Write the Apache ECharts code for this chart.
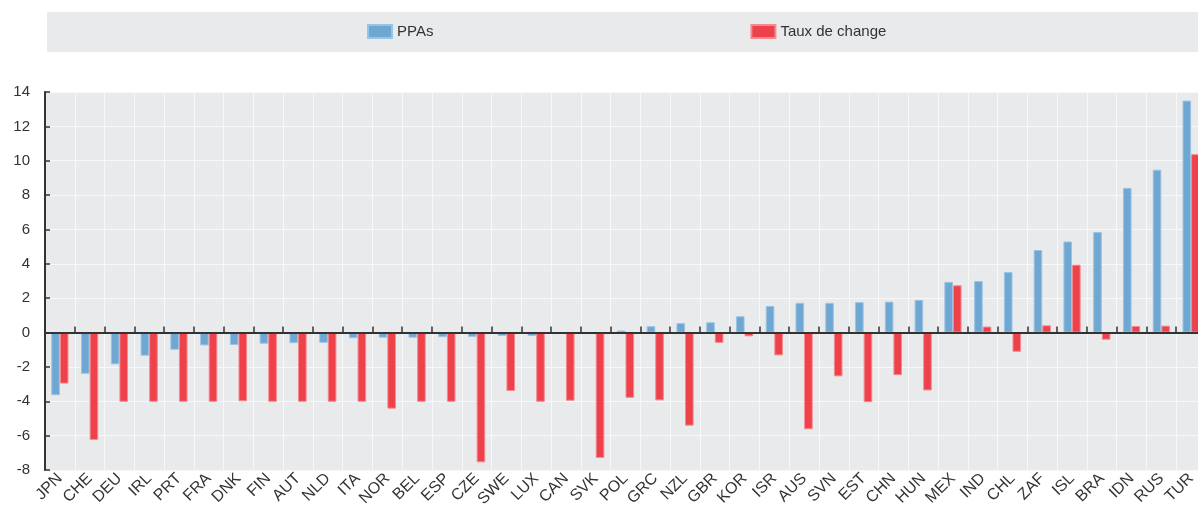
<!DOCTYPE html>
<html>
<head>
<meta charset="utf-8">
<script src="https://cdn.jsdelivr.net/npm/echarts@6/dist/echarts.min.js"></script>
<style>
html,body{margin:0;padding:0;background:#fff;}
#c{width:1198px;height:507px;}
</style>
</head>
<body>
<div id="c"></div>
<script>
const categories = ['JPN','CHE','DEU','IRL','PRT','FRA','DNK','FIN','AUT','NLD','ITA','NOR','BEL','ESP','CZE','SWE','LUX','CAN','SVK','POL','GRC','NZL','GBR','KOR','ISR','AUS','SVN','EST','CHN','HUN','MEX','IND','CHL','ZAF','ISL','BRA','IDN','RUS','TUR'];
const ppas = [-3.65,-2.4,-1.85,-1.35,-1.0,-0.75,-0.72,-0.65,-0.62,-0.6,-0.33,-0.3,-0.3,-0.27,-0.25,-0.2,-0.2,0,0,0.12,0.37,0.55,0.6,0.95,1.55,1.73,1.73,1.77,1.8,1.9,2.95,3.0,3.52,4.8,5.3,5.85,8.42,9.48,13.5];
const tauxDeChange = [-2.97,-6.25,-4.03,-4.03,-4.03,-4.03,-4.0,-4.03,-4.03,-4.03,-4.03,-4.43,-4.03,-4.03,-7.55,-3.4,-4.03,-3.97,-7.3,-3.8,-3.95,-5.42,-0.6,-0.22,-1.33,-5.63,-2.55,-4.05,-2.48,-3.37,2.75,0.35,-1.12,0.42,3.95,-0.42,0.38,0.4,10.38];
const seriesNames = ['PPAs','Taux de change'];
const yTicks = {min:-8, max:14, interval:2};

const chart = echarts.init(document.getElementById('c'), null, {renderer:'canvas'});
const font = "'Liberation Sans', Arial, sans-serif";
chart.setOption({
  animation:false,
  backgroundColor:'#ffffff',
  graphic:[{type:'rect', left:47, top:12, shape:{width:1151, height:40}, style:{fill:'#E9EAEC'}, z:-1}],
  legend:{
    left:362, top:19, itemWidth:24, itemHeight:13, itemGap:317,
    icon:'rect',
    textStyle:{fontFamily:font, fontSize:15, color:'#333333'},
    data:seriesNames
  },
  grid:{left:45, width:1161, top:92, height:378, outerBoundsMode:'none', containLabel:false, show:true, backgroundColor:'#E9EAEC', borderWidth:0},
  xAxis:[{
    type:'category', data:categories, position:'bottom',
    axisLine:{show:false, onZero:false},
    axisTick:{show:false},
    axisLabel:{rotate:45, margin:6, fontFamily:font, fontSize:16, color:'#333333', interval:0},
    splitLine:{show:true, interval:0, lineStyle:{color:'#F8F8F8', width:1}}
  },{
    type:'category', data:categories, position:'bottom', z:10,
    axisLine:{show:true, onZero:true, lineStyle:{color:'#333333', width:2}},
    axisTick:{show:true, inside:true, length:6, interval:0, lineStyle:{color:'#333333', width:1.5}},
    axisLabel:{show:false},
    splitLine:{show:false}
  }],
  yAxis:{
    type:'value', min:yTicks.min, max:yTicks.max, interval:yTicks.interval,
    axisLine:{show:true, lineStyle:{color:'#333333', width:2}},
    axisTick:{show:true, inside:true, length:5, lineStyle:{color:'#333333', width:1.5}},
    axisLabel:{margin:15, fontFamily:font, fontSize:15, color:'#333333'},
    splitLine:{show:true, lineStyle:{color:'#F8F8F8', width:1}}
  },
  series:[{
    name:seriesNames[0], type:'bar', data:ppas, barWidth:8.6, barGap:'0%',
    itemStyle:{color:'#6FA7D3', borderColor:'#9CC3E3', borderWidth:1}
  },{
    name:seriesNames[1], type:'bar', data:tauxDeChange, barWidth:8.6, barGap:'0%',
    itemStyle:{color:'#EE4149', borderColor:'#F28A90', borderWidth:1}
  }]
});
</script>
</body>
</html>
